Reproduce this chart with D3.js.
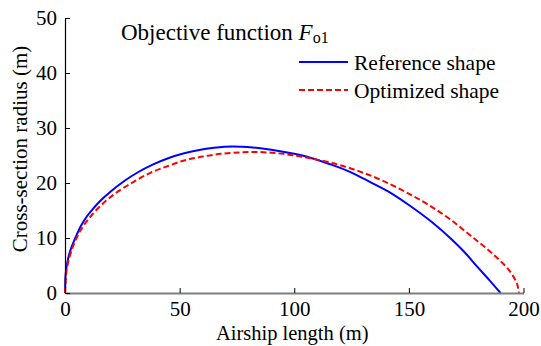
<!DOCTYPE html>
<html>
<head>
<meta charset="utf-8">
<script src="https://cdn.jsdelivr.net/npm/d3@7"></script>
<style>
  html, body { margin: 0; padding: 0; background: #fff; }
  svg { display: block; }
</style>
</head>
<body>
<div id="chart"></div>
<script>
// ---- data ----
const xTicks = [0, 50, 100, 150, 200];
const yTicks = [0, 10, 20, 30, 40, 50];
const seriesNames = ["Reference shape", "Optimized shape"];

const referenceX = [0, 0.2, 1, 2.4, 4.5, 6.8, 9.5, 12.6, 16, 19.8, 26, 32, 38, 45, 52, 58, 65, 73, 82, 90, 100, 107, 115, 125, 133, 142, 150, 160, 168, 175, 180, 185, 190];
const referenceY = [0, 3, 5.5, 7.8, 10.0, 12.1, 13.9, 15.5, 17.0, 18.4, 20.4, 22.0, 23.3, 24.5, 25.4, 25.95, 26.4, 26.65, 26.45, 26.05, 25.3, 24.6, 23.5, 21.9, 20.2, 18.2, 16.0, 12.9, 10.0, 7.1, 4.7, 2.4, 0];

const optimizedX = [0, 0.3, 1, 2.3, 4.6, 8, 12.6, 18, 24, 30.7, 37, 45, 52, 60, 68, 76, 83, 90, 97, 107, 116, 125, 137.6, 148, 159, 168, 177, 185, 190, 193, 195, 196.5, 197.5, 198];
const optimizedY = [0, 2.5, 4.8, 7.0, 9.6, 12.2, 14.6, 16.8, 18.7, 20.4, 21.8, 23.1, 24.1, 24.8, 25.3, 25.55, 25.65, 25.5, 25.2, 24.5, 23.7, 22.6, 20.6, 18.5, 15.9, 13.4, 10.4, 7.7, 5.8, 4.5, 3.4, 2.3, 1.2, 0];

// ---- layout ----
const W = 541, H = 346;
const FONT = "'Liberation Serif', 'Times New Roman', Times, 'DejaVu Serif', serif";
const svg = d3.select("#chart").append("svg").attr("width", W).attr("height", H);

const x = d3.scaleLinear().domain([0, 200]).range([65, 523.5]);
const y = d3.scaleLinear().domain([0, 50]).range([293, 18]);

const line = d3.line().x(d => x(d[0])).y(d => y(d[1])).curve(d3.curveMonotoneX);

const refData = referenceX.map((v, i) => [v, referenceY[i]]);
const optData = optimizedX.map((v, i) => [v, optimizedY[i]]);

// curves
svg.append("path").datum(refData)
  .attr("d", line).attr("fill", "none")
  .attr("stroke", "#0000ff").attr("stroke-width", 2);

svg.append("path").datum(optData)
  .attr("d", line).attr("fill", "none")
  .attr("stroke", "#ff0000").attr("stroke-width", 2)
  .attr("stroke-dasharray", "6,3");

// axes
const xAxis = d3.axisBottom(x).tickValues(xTicks).tickSizeInner(-5).tickSizeOuter(0).tickPadding(8);
const gx = svg.append("g").attr("transform", `translate(0,${y(0)})`).call(xAxis);
gx.select(".domain").attr("stroke", "#7f7f7f").attr("stroke-width", 2);
gx.selectAll(".tick line").attr("stroke", "#000");
gx.selectAll(".tick text").style("font-size", "21px").style("font-family", FONT).attr("fill", "#000");

const yAxis = d3.axisLeft(y).tickValues(yTicks).tickSizeInner(-5).tickSizeOuter(0).tickPadding(8);
const gy = svg.append("g").attr("transform", `translate(${x(0)},0)`).call(yAxis);
gy.select(".domain").attr("stroke", "#000").attr("stroke-width", 1.2);
gy.selectAll(".tick line").attr("stroke", "#000");
gy.selectAll(".tick text").style("font-size", "21px").style("font-family", FONT).attr("fill", "#000");

// axis titles
svg.append("text").attr("x", (x(0) + x(200)) / 2 - 2).attr("y", 339.5)
  .attr("text-anchor", "middle").style("font-family", FONT).style("font-size", "20.5px")
  .text("Airship length (m)");

svg.append("text").attr("transform", "translate(27,149) rotate(-90)")
  .attr("text-anchor", "middle").style("font-family", FONT).style("font-size", "21px")
  .text("Cross-section radius (m)");

// title annotation
const t = svg.append("text").attr("x", 121).attr("y", 40)
  .style("font-family", FONT).style("font-size", "23px");
t.append("tspan").text("Objective function ");
t.append("tspan").style("font-style", "italic").text("F");
t.append("tspan").style("font-size", "16px").attr("dy", 3).text("o1");

// legend
const legendColors = ["#0000ff", "#ff0000"];
const legendDash = [null, "6,3"];
const legendY = [62, 90];
seriesNames.forEach((name, i) => {
  svg.append("line").attr("x1", 299).attr("x2", 348)
    .attr("y1", legendY[i]).attr("y2", legendY[i])
    .attr("stroke", legendColors[i]).attr("stroke-width", 2)
    .attr("stroke-dasharray", legendDash[i]);
  svg.append("text").attr("x", 354).attr("y", legendY[i] + 7.5)
    .style("font-family", FONT).style("font-size", "21.5px").text(name);
});
</script>
</body>
</html>
